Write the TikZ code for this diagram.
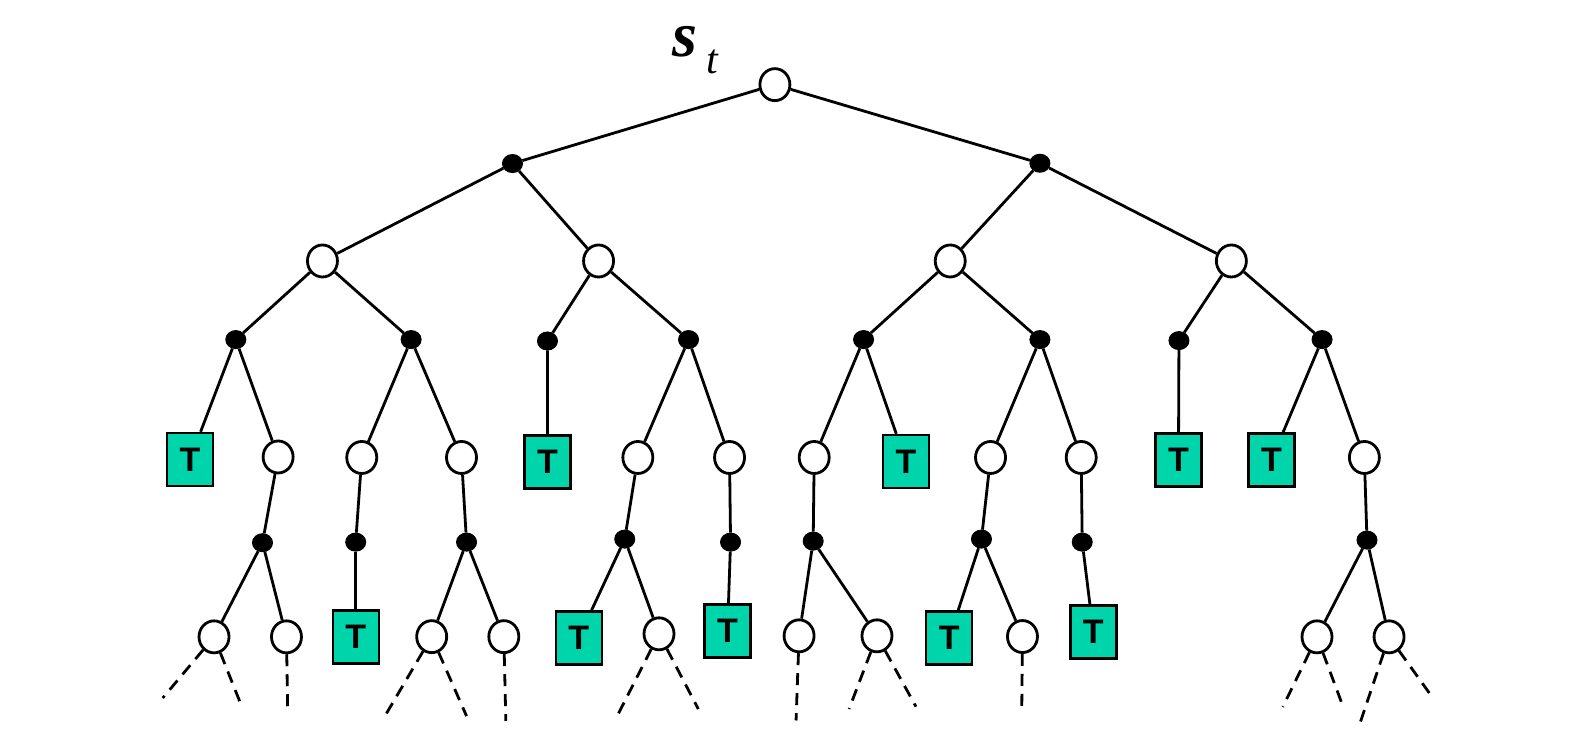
\documentclass[tikz,border=0pt]{standalone}
\usepackage{fontspec}
\setmainfont{Liberation Serif}
\setsansfont{Liberation Sans}
\usetikzlibrary{shapes.geometric}
\definecolor{termgreen}{RGB}{0,212,170}
\begin{document}
\begin{tikzpicture}[
    x=1.00765pt, y=-1.00765pt,
    state/.style={draw, ellipse, fill=white, line width=2.8pt, minimum width=30pt, minimum height=32pt, inner sep=0pt},
    action/.style={draw, ellipse, fill=black, line width=1pt, minimum width=20pt, minimum height=18pt, inner sep=0pt},
    terminal/.style={draw, fill=termgreen, rectangle, line width=2.4pt, minimum width=46pt, minimum height=53pt, inner sep=0pt, font=\sffamily\bfseries\fontsize{34}{34}\selectfont},
    edge/.style={line width=2.8pt},
    open/.style={line width=2.8pt, dash pattern=on 12pt off 8pt}
]
\useasboundingbox (0,0) rectangle (1568,739);
% Root state
\node[anchor=base west, inner sep=0pt] (label) at (667,56) {\fontsize{64}{64}\selectfont\bfseries\itshape s\kern9pt\raisebox{-17pt}{\fontsize{42}{42}\selectfont\mdseries\itshape t}};
\node[state] (s0) at (769,84) {};
% Level 1 and 2
\node[action] (q1) at (508.6,162.3) {};
\node[action] (q2) at (1032,162) {};
\node[state] (s1) at (320,259) {};
\node[state] (s2) at (594,259) {};
\node[state] (s3) at (943,259) {};
\node[state] (s4) at (1222,259) {};
% Level 3
\node[action] (q11) at (234,337) {};
\node[action] (q12) at (408,337) {};
\node[action] (q21) at (543.3,338.4) {};
\node[action] (q22) at (683.3,337) {};
\node[action] (q31) at (857,337) {};
\node[action] (q32) at (1032,337) {};
\node[action] (q41) at (1170,338) {};
\node[action] (q42) at (1312,337) {};
% Level 4
\node[terminal] (t1) at (188.6,456) {T};
\node[state] (s5) at (276,453.5) {};
\node[state] (s6) at (359,454) {};
\node[state] (s7) at (458,454) {};
\node[terminal] (t2) at (543.4,458.5) {T};
\node[state] (s8) at (633,454) {};
\node[state] (s9) at (724,454) {};
\node[state] (s10) at (808,454) {};
\node[terminal] (t3) at (899,458) {T};
\node[state] (s11) at (983,454) {};
\node[state] (s12) at (1073,454) {};
\node[terminal] (t4) at (1169.5,456.5) {T};
\node[terminal] (t5) at (1261.8,456.5) {T};
\node[state] (s13) at (1354,454) {};
% Level 5
\node[action] (r5) at (260.5,538.6) {};
\node[action] (r6) at (353,538) {};
\node[action] (r7) at (463,538) {};
\node[action] (r8) at (620,535) {};
\node[action] (r9) at (725,538) {};
\node[action] (r10) at (807,537) {};
\node[action] (r11) at (974,535) {};
\node[action] (r12) at (1074,538) {};
\node[action] (r13) at (1356.6,536) {};
% Level 6
\node[state] (u1) at (212.4,632) {};
\node[state] (u2) at (284.3,632) {};
\node[terminal] (t6) at (353,632) {T};
\node[state] (u3) at (428.4,631.8) {};
\node[state] (u4) at (500,631.8) {};
\node[terminal] (t7) at (574.3,633) {T};
\node[state] (u5) at (654,629) {};
\node[terminal] (t8) at (722,626) {T};
\node[state] (u6) at (793,631) {};
\node[state] (u7) at (870.3,631) {};
\node[terminal] (t9) at (942,633) {T};
\node[state] (u8) at (1014.7,631.7) {};
\node[terminal] (t10) at (1085,627) {T};
\node[state] (u9) at (1307,632) {};
\node[state] (u10) at (1378.5,632) {};
% Open ends
\coordinate (e1) at (161.5,692.7);
\coordinate (e2) at (238.9,698.6);
\coordinate (e3) at (285.5,707.3);
\coordinate (e4) at (382,710.6);
\coordinate (e5) at (463,710.6);
\coordinate (e6) at (502,715.5);
\coordinate (e7) at (613,709.6);
\coordinate (e8) at (693,703.6);
\coordinate (e9) at (790,715);
\coordinate (e10) at (842.6,703.6);
\coordinate (e11) at (909,701.3);
\coordinate (e12) at (1014,703.6);
\coordinate (e13) at (1273,701.6);
\coordinate (e14) at (1333,701.6);
\coordinate (e15) at (1349.7,717.5);
\coordinate (e16) at (1422,692.7);
% Edges
\foreach \a/\b in {s0/q1, s0/q2, q1/s1, q1/s2, q2/s3, q2/s4,
    s1/q11, s1/q12, s2/q21, s2/q22, s3/q31, s3/q32, s4/q41, s4/q42,
    q11/t1, q11/s5, q12/s6, q12/s7, q21/t2, q22/s8, q22/s9, q31/s10, q31/t3,
    q32/s11, q32/s12, q41/t4, q42/t5, q42/s13,
    s5/r5, s6/r6, s7/r7, s8/r8, s9/r9, s10/r10, s11/r11, s12/r12, s13/r13,
    r5/u1, r5/u2, r6/t6, r7/u3, r7/u4, r8/t7, r8/u5, r9/t8, r10/u6, r10/u7,
    r11/t9, r11/u8, r12/t10, r13/u9, r13/u10}
  \draw[edge] (\a) -- (\b);
\foreach \a/\b in {u1/e1, u1/e2, u2/e3, u3/e4, u3/e5, u4/e6, u5/e7, u5/e8,
    u6/e9, u7/e10, u7/e11, u8/e12, u9/e13, u9/e14, u10/e15, u10/e16}
  \draw[open] (\a) -- (\b);
\end{tikzpicture}
\end{document}
